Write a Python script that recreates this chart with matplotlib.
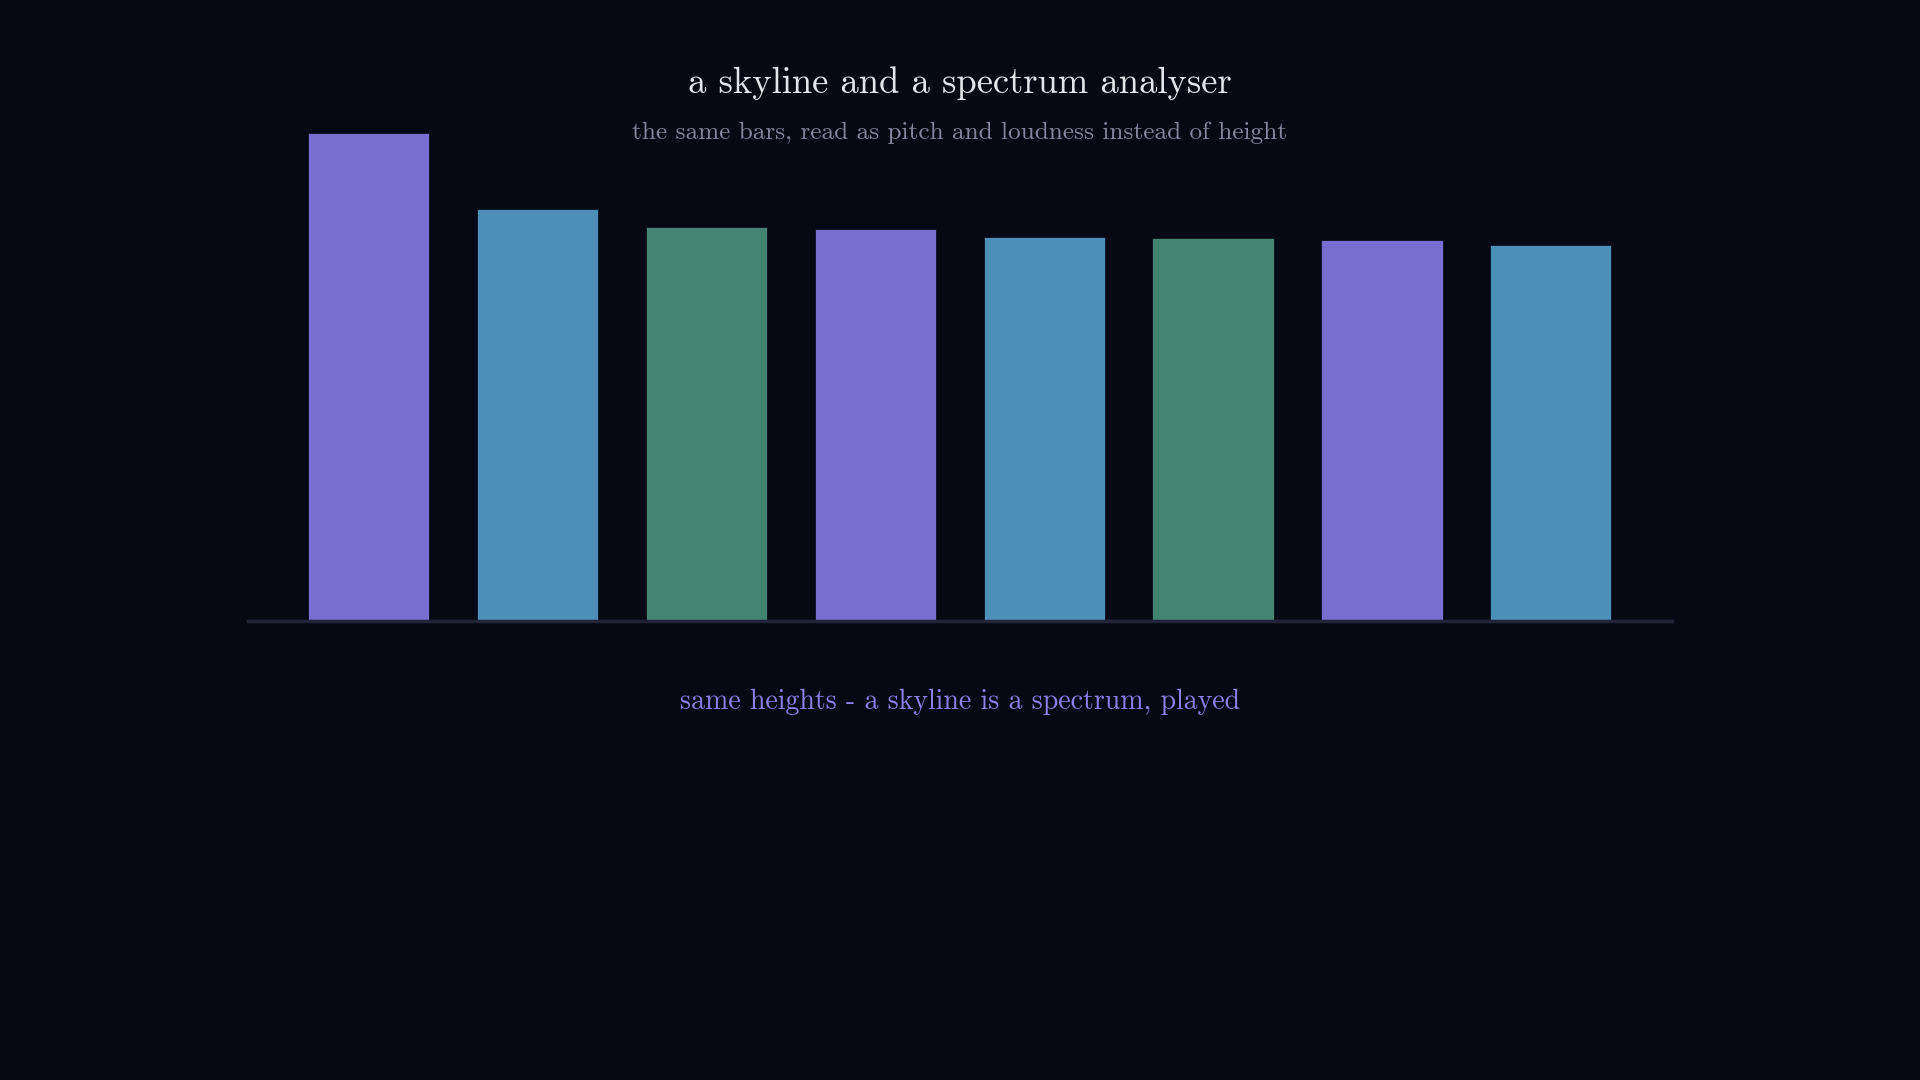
import matplotlib
matplotlib.use("Agg")
import matplotlib.pyplot as plt

# bar heights (first bar = 100)
heights = [100, 84.4, 80.9, 80.4, 78.8, 78.6, 78.1, 77.1]
colors = ["#786dd0", "#4c90ba", "#448572", "#786dd0",
          "#4c90ba", "#448572", "#786dd0", "#4c90ba"]

title = "a skyline and a spectrum analyser"
subtitle = "the same bars, read as pitch and loudness instead of height"
caption = "same heights - a skyline is a spectrum, played"

bg = "#060913"

fig = plt.figure(figsize=(19.2, 10.8), dpi=100, facecolor=bg)
ax = fig.add_axes([0.1290, 0.425, 0.7416, 0.4515])
ax.set_facecolor(bg)

x = list(range(len(heights)))
ax.bar(x, heights, width=0.717, color=colors, edgecolor="#0b1220",
       linewidth=0.6, zorder=2)

ax.set_xlim(-0.714, len(heights) - 1 + 0.714)
ax.set_ylim(0, 100)
for s in ["top", "left", "right"]:
    ax.spines[s].set_visible(False)
ax.spines["bottom"].set_color("#22243a")
ax.spines["bottom"].set_linewidth(2.5)
ax.spines["bottom"].set_zorder(3)
ax.set_xticks([])
ax.set_yticks([])

fig.text(0.5, 1 - 83.5 / 1080, title, ha="center", va="center",
         fontsize=26.3, color="#e4e4ec", family="cmr10")
fig.text(0.5, 1 - 132.5 / 1080, subtitle, ha="center", va="center",
         fontsize=18.2, color="#85859f", family="cmr10")
fig.text(0.5, 1 - 701.5 / 1080, caption, ha="center", va="center",
         fontsize=20.1, color="#8c80ea", family="cmr10")

fig.savefig("out.png", dpi=100, facecolor=bg)
